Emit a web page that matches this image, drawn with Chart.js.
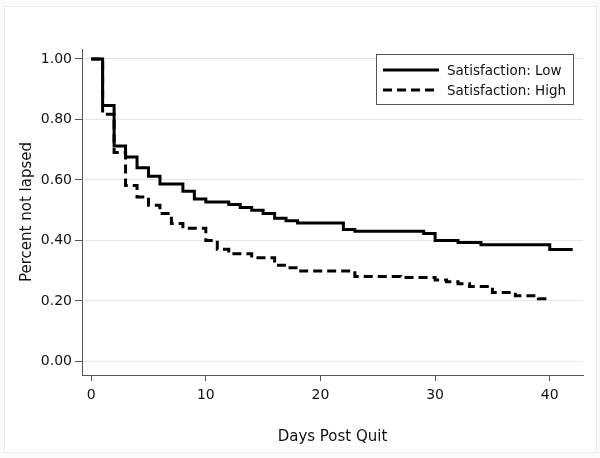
<!DOCTYPE html>
<html>
<head>
<meta charset="utf-8">
<script src="https://cdn.jsdelivr.net/npm/chart.js@4/dist/chart.umd.min.js"></script>
<style>
  html, body { margin: 0; padding: 0; background: #ffffff; }
  #wrap { width: 600px; height: 458px; position: relative; }
</style>
</head>
<body>
<div id="wrap"><canvas id="c" width="600" height="458"></canvas></div>
<script>
// ---- Data ----
const lowDays  = [0, 1, 2, 3, 4, 5, 6, 8, 9, 10, 12, 13, 14, 15, 16, 17, 18, 22, 23, 29, 30, 32, 34, 40, 42];
const lowSurv  = [1.00, 0.846, 0.712, 0.676, 0.640, 0.612, 0.587, 0.563, 0.537, 0.527, 0.519, 0.509, 0.500, 0.489, 0.473, 0.465, 0.458, 0.436, 0.430, 0.423, 0.400, 0.393, 0.386, 0.370, 0.370];
const highDays = [0, 1, 2, 3, 4, 5, 6, 7, 8, 10, 11, 12, 14, 16, 17, 18, 23, 27, 30, 31, 32, 33, 35, 37, 39, 40];
const highSurv = [1.00, 0.817, 0.691, 0.582, 0.544, 0.516, 0.489, 0.456, 0.440, 0.400, 0.371, 0.356, 0.343, 0.318, 0.310, 0.299, 0.281, 0.277, 0.269, 0.263, 0.257, 0.248, 0.228, 0.217, 0.207, 0.203];
const seriesLabels = ['Satisfaction: Low', 'Satisfaction: High'];
const xTickValues = [0, 10, 20, 30, 40];
const yTickValues = [0, 0.2, 0.4, 0.6, 0.8, 1.0];
const xTitle = 'Days Post Quit';
const yTitle = 'Percent not lapsed';

const toPoints = (xs, ys) => xs.map((x, i) => ({ x: x, y: ys[i] }));

const FONT = "'DejaVu Sans', Verdana, sans-serif";

const framePlugin = {
  id: 'frame',
  beforeDraw(chart) {
    const ctx = chart.ctx;
    ctx.save();
    ctx.fillStyle = '#fafafa';
    ctx.fillRect(0, 0, chart.width, chart.height);
    ctx.fillStyle = '#ffffff';
    ctx.fillRect(4.5, 6.5, 592, 446);
    ctx.strokeStyle = '#ececec';
    ctx.lineWidth = 1;
    ctx.strokeRect(4.5, 6.5, 592, 446);
    ctx.restore();
  }
};

const boxLegend = {
  id: 'boxLegend',
  afterDatasetsDraw(chart) {
    const ctx = chart.ctx;
    const x0 = 376.5, y0 = 54.5, w = 197, h = 50;
    ctx.save();
    ctx.fillStyle = '#ffffff';
    ctx.fillRect(x0, y0, w, h);
    ctx.strokeStyle = '#555555';
    ctx.lineWidth = 1;
    ctx.strokeRect(x0, y0, w, h);
    const rows = [70, 90];
    chart.data.datasets.forEach((ds, i) => {
      const y = rows[i];
      ctx.beginPath();
      ctx.setLineDash(ds.borderDash || []);
      ctx.lineWidth = ds.borderWidth;
      ctx.strokeStyle = ds.borderColor;
      ctx.lineCap = 'butt';
      ctx.moveTo(383, y);
      ctx.lineTo(439, y);
      ctx.stroke();
      ctx.setLineDash([]);
      ctx.fillStyle = '#111111';
      ctx.font = '13.5px ' + FONT;
      ctx.textAlign = 'left';
      ctx.textBaseline = 'middle';
      ctx.fillText(ds.label, 447, y + 1);
    });
    ctx.restore();
  }
};

new Chart(document.getElementById('c'), {
  type: 'line',
  data: {
    datasets: [
      {
        label: seriesLabels[0],
        data: toPoints(lowDays, lowSurv),
        stepped: true,
        borderColor: '#000000',
        borderWidth: 3,
        pointRadius: 0,
        fill: false,
        borderJoinStyle: 'miter'
      },
      {
        label: seriesLabels[1],
        data: toPoints(highDays, highSurv),
        stepped: true,
        borderColor: '#000000',
        borderWidth: 3,
        borderDash: [9, 5],
        pointRadius: 0,
        fill: false,
        borderJoinStyle: 'miter'
      }
    ]
  },
  options: {
    responsive: false,
    animation: false,
    devicePixelRatio: 1,
    layout: { padding: { top: 49, right: 17, bottom: 0, left: 0 } },
    plugins: {
      legend: { display: false },
      tooltip: { enabled: false }
    },
    scales: {
      x: {
        type: 'linear',
        min: -0.8,
        max: 42.9,
        afterBuildTicks(scale) { scale.ticks = xTickValues.map(v => ({ value: v })); },
        afterFit(scale) { scale.height = 83; },
        grid: { drawOnChartArea: false, drawTicks: true, tickLength: 6, tickColor: '#555555', tickWidth: 1 },
        border: { display: true, color: '#555555', width: 1 },
        ticks: {
          padding: 6,
          color: '#111111',
          font: { family: FONT, size: 14 },
          maxRotation: 0,
          callback: (v) => String(v)
        },
        title: {
          display: true,
          text: xTitle,
          color: '#111111',
          font: { family: FONT, size: 15 },
          padding: { top: 0, bottom: 12 }
        }
      },
      y: {
        type: 'linear',
        min: -0.045,
        max: 1.033,
        afterBuildTicks(scale) { scale.ticks = yTickValues.map(v => ({ value: v })); },
        afterFit(scale) { scale.width = 82; },
        grid: { drawOnChartArea: true, color: '#e6e6e6', lineWidth: 1, drawTicks: true, tickLength: 7, tickColor: '#555555', tickWidth: 1 },
        border: { display: true, color: '#555555', width: 1 },
        ticks: {
          padding: 3,
          color: '#111111',
          font: { family: FONT, size: 14 },
          callback: (v) => Number(v).toFixed(2)
        },
        title: {
          display: true,
          text: yTitle,
          color: '#111111',
          font: { family: FONT, size: 15 },
          padding: { top: 18, bottom: 0 }
        }
      }
    }
  },
  plugins: [framePlugin, boxLegend]
});
</script>
</body>
</html>
